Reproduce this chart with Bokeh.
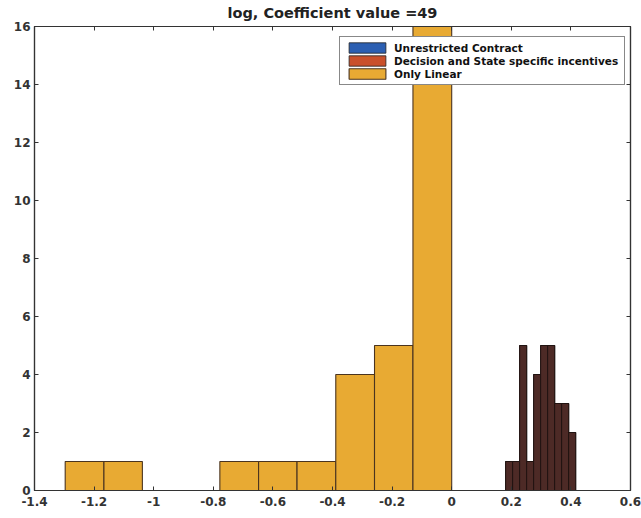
from bokeh.plotting import figure
from bokeh.models import LinearAxis, Range1d, FixedTicker, Legend, LegendItem, Title
from bokeh.embed import file_html
from bokeh.resources import INLINE

# Only Linear histogram: bin edges and counts
lin_edges = [-1.297, -1.167, -1.038, -0.908, -0.778, -0.648, -0.519, -0.389, -0.259, -0.130, 0.0]
lin_counts = [1, 1, 0, 0, 1, 1, 1, 4, 5, 16]

# Unrestricted / Decision-and-State histograms (overlapping)
dec_edges = [0.181, 0.2045, 0.228, 0.2515, 0.275, 0.2985, 0.322, 0.3455, 0.369, 0.3925, 0.416]
dec_counts = [1, 1, 5, 1, 4, 5, 5, 3, 3, 2]

x_ticks = [-1.4, -1.2, -1.0, -0.8, -0.6, -0.4, -0.2, 0.0, 0.2, 0.4, 0.6]
x_labels = ["-1.4", "-1.2", "-1", "-0.8", "-0.6", "-0.4", "-0.2", "0", "0.2", "0.4", "0.6"]
y_ticks = [0, 2, 4, 6, 8, 10, 12, 14, 16]

title_text = "log, Coefficient value =49"
series_names = ["Unrestricted Contract", "Decision and State specific incentives", "Only Linear"]

FONT = "DejaVu Sans"

p = figure(width=641, height=518, output_backend="svg", toolbar_location=None,
           x_range=Range1d(-1.4, 0.6), y_range=Range1d(0, 16),
           min_border_left=34, min_border_right=11, min_border_top=25, min_border_bottom=28)
p.title = Title(text=title_text, align="center", text_font=FONT, text_font_size="14.5px",
                text_font_style="bold", text_color="#222222", standoff=4)
p.xgrid.visible = False
p.ygrid.visible = False
p.outline_line_color = "#333333"
p.outline_line_width = 1.2
p.background_fill_color = "white"
p.border_fill_color = "white"

blue = p.quad(left=dec_edges[:-1], right=dec_edges[1:], bottom=0, top=dec_counts,
              fill_color="#2c5fb2", line_color="#222222", line_width=0.8)
red = p.quad(left=dec_edges[:-1], right=dec_edges[1:], bottom=0, top=dec_counts,
             fill_color="#c9502b", line_color="#222222", line_width=0.8)
# overlap of the two translucent histograms appears dark brown
p.quad(left=dec_edges[:-1], right=dec_edges[1:], bottom=0, top=dec_counts,
       fill_color="#4d2a26", line_color="#1e1210", line_width=0.9)
yel = p.quad(left=lin_edges[:-1], right=lin_edges[1:], bottom=0, top=lin_counts,
             fill_color="#e8aa33", line_color="#4a3420", line_width=1.1)

def style_axis(ax, labels=True):
    ax.major_tick_in = 4
    ax.major_tick_out = 0
    ax.minor_tick_line_color = None
    ax.axis_line_color = "#333333"
    ax.axis_line_width = 1.2
    ax.major_tick_line_color = "#333333"
    ax.major_label_text_font = FONT
    ax.major_label_text_font_size = "12px"
    ax.major_label_text_font_style = "bold"
    ax.major_label_text_color = "#333333"
    ax.major_label_standoff = 4

xa = p.xaxis[0]
xa.ticker = FixedTicker(ticks=x_ticks)
xa.major_label_overrides = {t: l for t, l in zip(x_ticks, x_labels)}
style_axis(xa)
xa.major_label_standoff = 6
ya = p.yaxis[0]
ya.ticker = FixedTicker(ticks=y_ticks)
style_axis(ya)

# tick-only axes on top and right (box style)
top_ax = LinearAxis(ticker=FixedTicker(ticks=x_ticks))
style_axis(top_ax)
top_ax.major_label_text_font_size = "1px"
top_ax.major_label_standoff = 0
top_ax.major_label_overrides = {t: " " for t in x_ticks}
p.add_layout(top_ax, "above")
right_ax = LinearAxis(ticker=FixedTicker(ticks=y_ticks))
style_axis(right_ax)
right_ax.major_label_text_font_size = "1px"
right_ax.major_label_standoff = 0
right_ax.major_label_overrides = {t: " " for t in y_ticks}
p.add_layout(right_ax, "right")

legend = Legend(items=[LegendItem(label=series_names[0], renderers=[blue]),
                       LegendItem(label=series_names[1], renderers=[red]),
                       LegendItem(label=series_names[2], renderers=[yel])],
                location=(305, 405), label_text_font=FONT, label_text_font_size="10.5px",
                label_text_font_style="bold", label_text_color="#111111",
                glyph_width=46, glyph_height=13, label_height=13, spacing=0,
                padding=4, margin=0, label_standoff=4, label_width=226,
                border_line_color="#111111", border_line_width=1.2,
                background_fill_color="white", background_fill_alpha=1.0)
p.add_layout(legend, "center")

open("out.html", "w").write(file_html(p, INLINE))
